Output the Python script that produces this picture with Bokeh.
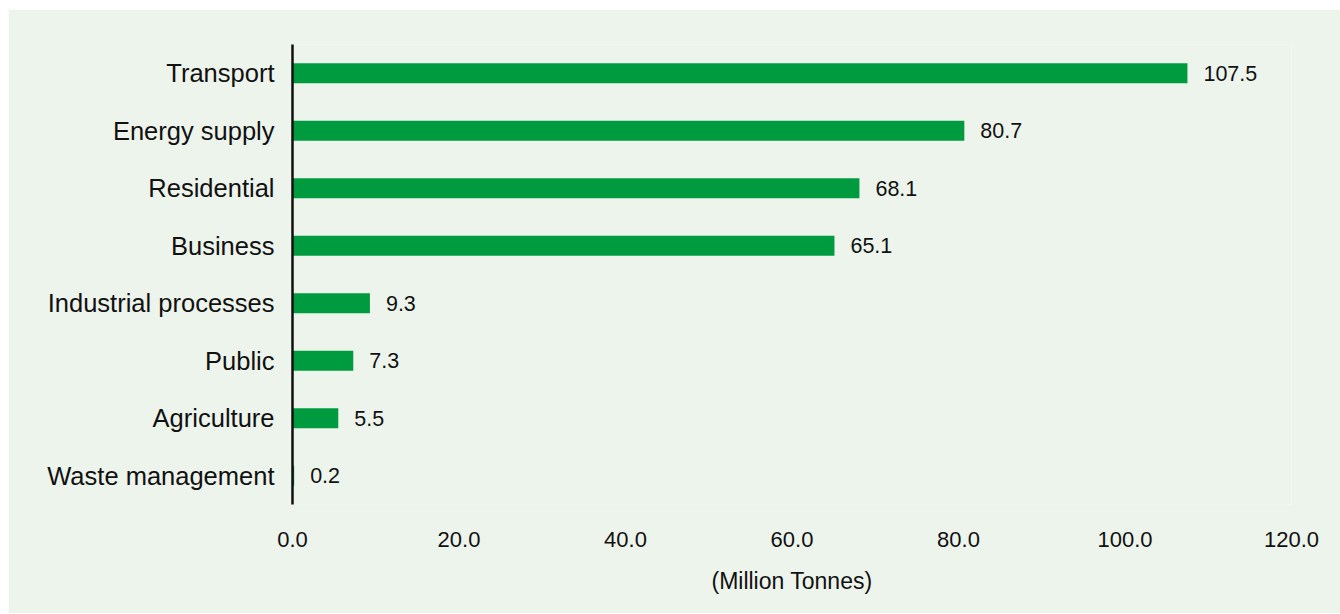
from bokeh.plotting import figure
from bokeh.models import Range1d, FactorRange, FixedTicker, NumeralTickFormatter, ColumnDataSource
from bokeh.embed import file_html
from bokeh.resources import INLINE
from bokeh.core.properties import value

categories = ["Transport", "Energy supply", "Residential", "Business",
              "Industrial processes", "Public", "Agriculture", "Waste management"]
values = [107.5, 80.7, 68.1, 65.1, 9.3, 7.3, 5.5, 0.2]
value_labels = ["107.5", "80.7", "68.1", "65.1", "9.3", "7.3", "5.5", "0.2"]
x_ticks = [0, 20, 40, 60, 80, 100, 120]
x_title = "(Million Tonnes)"

BG = "#edf4ec"
GREEN = "#009b3e"
FONT = "Liberation Sans"
TXT = "#111111"

src = ColumnDataSource(dict(cat=categories, val=values, lab=value_labels))

p = figure(width=1332, height=604, output_backend="svg", toolbar_location=None,
           x_range=Range1d(0, 120), y_range=FactorRange(factors=categories[::-1]),
           min_border_left=284, min_border_right=49, min_border_top=35, min_border_bottom=109,
           background_fill_color=BG, border_fill_color=BG, outline_line_color=None)
p.margin = (9, 0, 1, 8)

p.hbar(y="cat", right="val", left=0, height=0.35, source=src, color=GREEN, line_color=None)
p.text(x="val", y="cat", text="lab", source=src, x_offset=16, text_baseline="middle",
       text_align="left", text_font=value(FONT), text_font_size="21.5px", text_color=TXT)

p.xgrid.visible = False
p.ygrid.visible = False

xa = p.xaxis[0]
xa.ticker = FixedTicker(ticks=x_ticks)
xa.formatter = NumeralTickFormatter(format="0.0")
xa.axis_line_color = None
xa.major_tick_line_color = None
xa.minor_tick_line_color = None
xa.major_label_standoff = 21
xa.major_label_text_font = FONT
xa.major_label_text_font_size = "22px"
xa.major_label_text_color = TXT
xa.axis_label = x_title
xa.axis_label_standoff = 18
xa.axis_label_text_font = FONT
xa.axis_label_text_font_size = "23px"
xa.axis_label_text_font_style = "normal"
xa.axis_label_text_color = TXT

ya = p.yaxis[0]
ya.axis_line_color = TXT
ya.axis_line_width = 2.5
ya.major_tick_line_color = None
ya.minor_tick_line_color = None
ya.major_label_standoff = 12
ya.major_label_text_font = FONT
ya.major_label_text_font_size = "25.5px"
ya.major_label_text_color = TXT

open("out.html", "w").write(file_html(p, INLINE))
